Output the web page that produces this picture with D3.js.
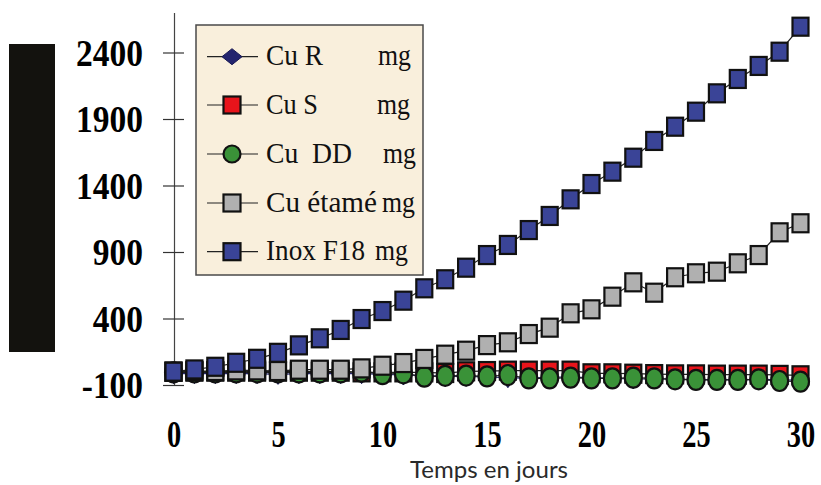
<!DOCTYPE html>
<html><head><meta charset="utf-8">
<script src="https://cdn.jsdelivr.net/npm/d3@7"></script>
<style>html,body{margin:0;padding:0;background:#fff;}svg{display:block;}</style>
</head><body><div id="chart"></div>
<script>
const days = [0,1,2,3,4,5,6,7,8,9,10,11,12,13,14,15,16,17,18,19,20,21,22,23,24,25,26,27,28,29,30];
const cuR   = [-15,-15,-15,-15,-15,-20,-15,-15,-15,-15,-20,-25,-30,-35,-35,-40,-45,-50,-40,-40,-45,-50,-55,-55,-55,-60,-60,-60,-60,-60,-65];
const cuS   = [0,0,0,0,0,0,0,0,0,-5,-5,-5,-5,-10,3,5,8,8,8,8,-12,-12,-15,-18,-20,-20,-22,-22,-22,-24,-27];
const cuDD  = [-5,-5,-5,-5,-5,-5,-5,-5,-5,0,-18,-12,-37,-31,-29,-35,-25,-50,-50,-45,-50,-50,-45,-50,-57,-62,-62,-62,-57,-70,-75];
const cuEtame = [0,5,5,10,10,5,15,15,15,25,45,65,96,128,158,200,221,283,331,439,469,564,672,594,710,740,752,815,877,1048,1116];
const inox  = [0,17,37,67,97,142,198,251,314,396,456,534,627,695,782,877,953,1065,1171,1296,1411,1504,1609,1735,1842,1955,2093,2201,2299,2406,2594];
const yTicks = [-100,400,900,1400,1900,2400];
const xTicks = [0,5,10,15,20,25,30];
const seriesNames = ["Cu R","Cu S","Cu  DD","Cu étamé","Inox F18"];
const unitLabel = "mg";
const xTitle = "Temps en jours";

const W = 821, H = 485;
const svg = d3.select("#chart").append("svg").attr("width", W).attr("height", H);

const x = d3.scaleLinear().domain([0,30]).range([173.5, 800.5]);
const y = d3.scaleLinear().domain([-100,2700]).range([385, 12.6]);

// black block on the left
svg.append("rect").attr("x",9).attr("y",44).attr("width",46).attr("height",308).attr("fill","#13120e");

// y axis
const yAxis = svg.append("g").attr("transform","translate(174,0)")
  .call(d3.axisLeft(y).tickValues(yTicks).tickSize(11).tickSizeOuter(0).tickFormat(d => String(d)));
yAxis.select(".domain").attr("stroke","#444").attr("stroke-width",1.2);
yAxis.selectAll(".tick line").attr("x1",-11).attr("x2",10).attr("stroke","#333").attr("stroke-width",1.2);
yAxis.selectAll(".tick text")
  .attr("x",-31).attr("dy",0).attr("y",12.5)
  .attr("font-family","'Liberation Serif','Times New Roman',serif")
  .attr("font-weight","bold").attr("font-size",37).attr("fill","#000")
  .attr("text-anchor","end")
  .attr("textLength", d => String(Math.abs(d)).length*16.75 + (d<0?11:0))
  .attr("lengthAdjust","spacingAndGlyphs");

// x axis (labels only)
const xAxis = svg.append("g").attr("transform","translate(0,385)")
  .call(d3.axisBottom(x).tickValues(xTicks).tickSize(0).tickFormat(d => String(d)));
xAxis.select(".domain").remove();
xAxis.selectAll(".tick text")
  .attr("y",62).attr("dy",0)
  .attr("font-family","'Liberation Serif','Times New Roman',serif")
  .attr("font-weight","bold").attr("font-size",37).attr("fill","#000")
  .attr("textLength", d => String(d).length*14.2)
  .attr("lengthAdjust","spacingAndGlyphs");

svg.append("text").attr("x",489).attr("y",478).attr("text-anchor","middle")
  .attr("font-family","Lato, 'Open Sans', sans-serif").attr("font-size",23.5)
  .attr("fill","#2a2a2a").attr("textLength",158).attr("lengthAdjust","spacingAndGlyphs")
  .text(xTitle);

// marker drawers
function drawMarker(g, type, fill, w, h){
  if(type==="square"){
    g.append("rect").attr("x",-w/2).attr("y",-h/2).attr("width",w).attr("height",h)
      .attr("fill",fill).attr("stroke","#111").attr("stroke-width",2.2);
  } else if(type==="circle"){
    g.append("ellipse").attr("rx",w/2).attr("ry",h/2)
      .attr("fill",fill).attr("stroke","#111").attr("stroke-width",2.2);
  } else {
    g.append("path").attr("d",`M0,${-h/2}L${w/2},0L0,${h/2}L${-w/2},0Z`)
      .attr("fill",fill).attr("stroke","#1a1a55").attr("stroke-width",1);
  }
}

const series = [
  {name:seriesNames[0], values:cuR, type:"diamond", fill:"#24246e", line:"#24246e"},
  {name:seriesNames[1], values:cuS, type:"square", fill:"#e8141b", line:"#222"},
  {name:seriesNames[2], values:cuDD, type:"circle", fill:"#3a9238", line:"#222"},
  {name:seriesNames[3], values:cuEtame, type:"square", fill:"#b0b0b0", line:"#222"},
  {name:seriesNames[4], values:inox, type:"square", fill:"#3a4497", line:"#222"}
];

const line = d3.line().x((d,i)=>x(days[i])).y(d=>y(d));
series.forEach(s=>{
  const g = svg.append("g");
  g.append("path").datum(s.values).attr("d",line).attr("fill","none")
    .attr("stroke",s.line).attr("stroke-width",1.2);
  s.values.forEach((v,i)=>{
    const m = g.append("g").attr("transform",`translate(${x(days[i])},${y(v)})`);
    if(s.type==="circle") drawMarker(m,"circle",s.fill,17,20);
    else if(s.type==="diamond") drawMarker(m,"diamond",s.fill,15,20);
    else drawMarker(m,"square",s.fill,16,18);
  });
});

// legend
const lg = svg.append("g");
lg.append("rect").attr("x",196).attr("y",25).attr("width",227).attr("height",250)
  .attr("fill","#f9efdc").attr("stroke","#4a4a4a").attr("stroke-width",1.5);
const rowY = [56.7,105,154,203,251.7];
const nameLen = [57,52,86,111,99];
const unitX = [378,377,383,382,375];
series.forEach((s,i)=>{
  const cy = rowY[i];
  lg.append("line").attr("x1",207).attr("x2",258).attr("y1",cy).attr("y2",cy)
    .attr("stroke","#222").attr("stroke-width",1.2);
  const m = lg.append("g").attr("transform",`translate(232,${cy})`);
  if(s.type==="circle") drawMarker(m,"circle",s.fill,17,17);
  else if(s.type==="diamond") drawMarker(m,"diamond",s.fill,20,16);
  else drawMarker(m,"square",s.fill,17,17);
  lg.append("text").attr("x",266).attr("y",cy+8.5)
    .attr("font-family","'Liberation Serif','Times New Roman',serif").attr("font-size",30)
    .attr("fill","#111").attr("textLength",nameLen[i]).attr("lengthAdjust","spacingAndGlyphs")
    .attr("xml:space","preserve").text(s.name);
  lg.append("text").attr("x",unitX[i]).attr("y",cy+8.5)
    .attr("font-family","'Liberation Serif','Times New Roman',serif").attr("font-size",30)
    .attr("fill","#111").attr("textLength",33).attr("lengthAdjust","spacingAndGlyphs")
    .text(unitLabel);
});
</script></body></html>
